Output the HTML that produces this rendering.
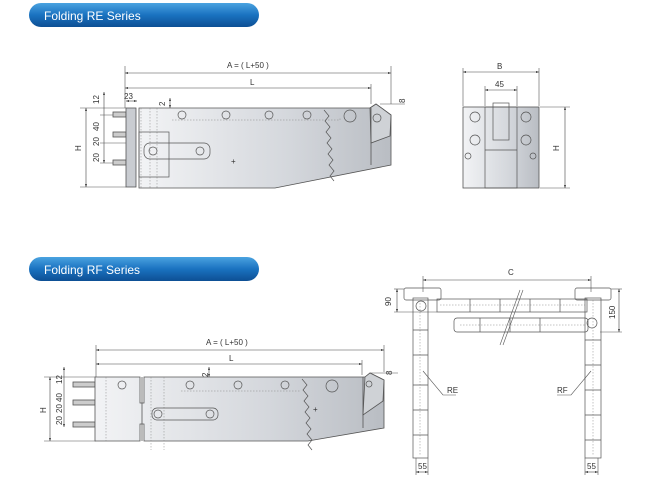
<!DOCTYPE html>
<html><head><meta charset="utf-8"><style>
html,body{margin:0;padding:0;background:#fff;}
svg{display:block;font-family:"Liberation Sans",sans-serif;}
</style></head><body>
<svg width="650" height="479" viewBox="0 0 650 479" xmlns="http://www.w3.org/2000/svg">
<defs>
<linearGradient id="ban" x1="0" y1="0" x2="0" y2="1">
<stop offset="0" stop-color="#4aa3e0"/><stop offset="0.5" stop-color="#1a72c0"/><stop offset="1" stop-color="#0d4f94"/></linearGradient>
<linearGradient id="body" x1="0" y1="0" x2="1" y2="0">
<stop offset="0" stop-color="#f2f3f5"/><stop offset="0.6" stop-color="#d4d7dc"/><stop offset="1" stop-color="#b9bdc3"/></linearGradient>
<linearGradient id="dark" x1="0" y1="0" x2="1" y2="0">
<stop offset="0" stop-color="#c4c8cd"/><stop offset="1" stop-color="#9da2a9"/></linearGradient>
<marker id="a" viewBox="0 0 6 6" refX="6" refY="3" markerWidth="5" markerHeight="5" orient="auto-start-reverse"><path d="M0,1 L6,3 L0,5z" fill="#333"/></marker>
</defs>
<style>
.d{stroke:#555;stroke-width:0.6;fill:none}
.m{stroke:#444;stroke-width:0.6;fill:none;marker-start:url(#a);marker-end:url(#a)}
.o{stroke:#555;stroke-width:0.8}
.t{font-size:8px;fill:#333}
.h{fill:none;stroke:#555;stroke-width:0.7}
.dot{stroke:#888;stroke-width:0.5;stroke-dasharray:1.5 1.5;fill:none}
</style>
<!-- banners -->
<rect x="29" y="3" width="230" height="24" rx="12" fill="url(#ban)"/>
<text x="44" y="20" font-size="12" fill="#fff">Folding RE Series</text>
<rect x="29" y="257" width="230" height="24" rx="12" fill="url(#ban)"/>
<text x="44" y="274" font-size="12" fill="#fff">Folding RF Series</text>

<!-- RE side view -->
<line class="d" x1="125" y1="66" x2="125" y2="108"/><line class="d" x1="391" y1="66" x2="391" y2="104"/>
<line class="m" x1="125" y1="73" x2="391" y2="73"/>
<text class="t" x="227" y="68">A = ( L+50 )</text>
<line class="m" x1="125" y1="88" x2="371" y2="88"/><line class="d" x1="371" y1="84" x2="371" y2="104"/>
<text class="t" x="250" y="85">L</text>
<line class="m" x1="126" y1="101" x2="137" y2="101"/><text class="t" x="124" y="99" font-size="7">23</text>
<text class="t" transform="translate(165,106) rotate(-90)">2</text>
<line class="m" x1="170" y1="98" x2="170" y2="108"/>
<text class="t" transform="translate(405,103) rotate(-90)">8</text>
<line class="d" x1="380" y1="104" x2="405" y2="104"/>
<!-- left dims -->
<line class="d" x1="80" y1="108" x2="126" y2="108"/><line class="d" x1="80" y1="187" x2="126" y2="187"/>
<line class="m" x1="86" y1="108" x2="86" y2="187"/><text class="t" transform="translate(81,151) rotate(-90)">H</text>
<line class="m" x1="104" y1="92" x2="104" y2="163"/>
<text class="t" transform="translate(99,104) rotate(-90)">12</text>
<text class="t" transform="translate(99,131) rotate(-90)">40</text>
<text class="t" transform="translate(99,146) rotate(-90)">20</text>
<text class="t" transform="translate(99,162) rotate(-90)">20</text>
<line class="d" x1="100" y1="115" x2="126" y2="115"/><line class="d" x1="100" y1="143" x2="126" y2="143"/><line class="d" x1="100" y1="163" x2="126" y2="163"/>
<!-- pins -->
<rect x="113" y="112" width="13" height="5" fill="#ccc" class="o"/>
<rect x="113" y="132" width="13" height="5" fill="#ccc" class="o"/>
<rect x="113" y="160" width="13" height="5" fill="#ccc" class="o"/>
<rect x="126" y="108" width="10" height="79" fill="#c9ccd1" class="o"/>
<path d="M139,108 H370 L376,104 L391,115 V165 L275,188 H139 Z" fill="url(#body)" class="o"/>
<path d="M370,108 L376,104 L391,115 L390,136 L371,143 Z" fill="#cfd2d6" class="o"/>
<line class="o" x1="371" y1="108" x2="371" y2="165"/>
<path d="M141,108 V188 M150,108 V188 M157,108 V188" class="dot"/>
<rect x="139" y="132" width="30" height="45" fill="#dcdee1" class="h"/>
<rect x="144" y="143" width="66" height="16" rx="6" fill="#e6e7ea" class="h"/>
<circle cx="153" cy="151" r="4" class="h"/><circle cx="200" cy="151" r="4" class="h"/>
<path d="M172,120 H340 V118" class="dot"/>
<g class="h"><circle cx="182" cy="115" r="4"/><circle cx="226" cy="115" r="4"/><circle cx="269" cy="115" r="4"/><circle cx="307" cy="115" r="4"/><circle cx="350" cy="116" r="6"/><circle cx="377" cy="118" r="4"/></g>
<path d="M324,110 l5,6 -4,5 5,6 -4,5 5,6 -4,5 5,6 -4,5 5,6 -4,5 5,6 -4,5 4,5" class="h"/>
<text class="t" x="231" y="164" font-size="9">+</text>

<!-- RE end view -->
<line class="d" x1="463" y1="68" x2="463" y2="106"/><line class="d" x1="539" y1="68" x2="539" y2="106"/>
<line class="m" x1="463" y1="72" x2="539" y2="72"/><text class="t" x="497" y="69">B</text>
<line class="d" x1="485" y1="86" x2="485" y2="106"/><line class="d" x1="517" y1="86" x2="517" y2="106"/>
<line class="m" x1="485" y1="90" x2="517" y2="90"/><text class="t" x="495" y="87">45</text>
<rect x="463" y="107" width="76" height="81" fill="url(#body)" class="o"/>
<rect x="485" y="107" width="32" height="81" fill="#d6d9dd" class="h"/>
<rect x="493" y="103" width="16" height="37" fill="#e3e5e8" class="h"/>
<line class="h" x1="485" y1="150" x2="517" y2="150"/>
<g class="h"><circle cx="475" cy="117" r="5"/><circle cx="475" cy="140" r="5"/><circle cx="468" cy="156" r="3"/><circle cx="526" cy="117" r="5"/><circle cx="526" cy="140" r="5"/><circle cx="533" cy="156" r="3"/></g>
<line class="d" x1="540" y1="107" x2="570" y2="107"/><line class="d" x1="540" y1="188" x2="570" y2="188"/>
<line class="m" x1="565" y1="107" x2="565" y2="188"/><text class="t" transform="translate(559,151) rotate(-90)">H</text>

<!-- RF side view -->
<line class="d" x1="96" y1="345" x2="96" y2="377"/><line class="d" x1="384" y1="345" x2="384" y2="372"/>
<line class="m" x1="96" y1="350" x2="384" y2="350"/><text class="t" x="206" y="345">A = ( L+50 )</text>
<line class="m" x1="96" y1="364" x2="362" y2="364"/><line class="d" x1="362" y1="360" x2="362" y2="375"/>
<text class="t" x="229" y="361">L</text>
<text class="t" transform="translate(208,377) rotate(-90)">2</text>
<line class="m" x1="209" y1="367" x2="209" y2="377"/>
<text class="t" transform="translate(392,375) rotate(-90)">8</text>
<line class="d" x1="370" y1="373" x2="398" y2="373"/>
<line class="d" x1="44" y1="377" x2="96" y2="377"/><line class="d" x1="44" y1="441" x2="96" y2="441"/>
<line class="m" x1="50" y1="377" x2="50" y2="441"/><text class="t" transform="translate(46,413) rotate(-90)">H</text>
<line class="m" x1="64" y1="367" x2="64" y2="427"/>
<text class="t" transform="translate(62,384) rotate(-90)">12</text>
<text class="t" transform="translate(62,402) rotate(-90)">40</text>
<text class="t" transform="translate(62,413) rotate(-90)">20</text>
<text class="t" transform="translate(62,425) rotate(-90)">20</text>
<rect x="73" y="382" width="22" height="5" fill="#ccc" class="o"/>
<rect x="73" y="400" width="22" height="5" fill="#ccc" class="o"/>
<rect x="73" y="422" width="22" height="5" fill="#ccc" class="o"/>
<path d="M95,377 H140 V403 H144 V377 H365 L370,373 L384,380 V428 L308,441 H144 V424 H140 V441 H95 Z" fill="url(#body)" class="o"/>
<path d="M365,377 L370,373 L384,380 L383,401 L363,415 Z" fill="#cfd2d6" class="o"/>
<line class="o" x1="363" y1="377" x2="363" y2="428"/>
<line class="o" x1="142" y1="377" x2="142" y2="441"/>
<path d="M151,377 V450 M164,377 V450 M106,377 V441" class="dot"/>
<rect x="152" y="408" width="66" height="12" rx="5" fill="#e6e7ea" class="h"/>
<circle cx="158" cy="414" r="4" class="h"/><circle cx="210" cy="414" r="4" class="h"/>
<path d="M181,391 H300" class="dot"/>
<g class="h"><circle cx="122" cy="385" r="4"/><circle cx="190" cy="385" r="4"/><circle cx="238" cy="385" r="4"/><circle cx="285" cy="385" r="4"/><circle cx="332" cy="386" r="6"/><circle cx="369" cy="384" r="3"/></g>
<path d="M302,379 l5,6 -4,5 5,6 -4,5 5,6 -4,5 5,6 -4,5 5,6 -4,5 5,6 -4,5 4,5" class="h"/>
<text class="t" x="313" y="412" font-size="9">+</text>

<!-- chain diagram -->
<line class="d" x1="423" y1="276" x2="423" y2="292"/><line class="d" x1="591" y1="276" x2="591" y2="292"/>
<line class="m" x1="423" y1="280" x2="591" y2="280"/><text class="t" x="508" y="275">C</text>
<rect x="404" y="288" width="37" height="12" rx="2" fill="#d9dbde" class="h"/>
<rect x="413" y="298" width="15" height="160" fill="url(#body)" class="h"/>
<rect x="437" y="299" width="150" height="13" fill="#dcdfe2" class="h"/>
<rect x="454" y="318" width="134" height="14" rx="3" fill="#cfd2d6" class="h"/>
<rect x="575" y="288" width="36" height="12" rx="2" fill="#b4b8bd" class="h"/>
<rect x="585" y="298" width="16" height="160" fill="url(#dark)" class="h"/>
<circle cx="421" cy="306" r="5" class="h"/><circ cx="0"/>
<circle cx="592" cy="323" r="5" class="h"/>
<path d="M420,300 V455 M593,300 V455 M440,305 H585 M460,325 H585" class="dot"/>
<g class="h"><path d="M413,330 h15 M413,355 h15 M413,385 h15 M413,410 h15 M413,435 h15 M585,340 h16 M585,365 h16 M585,390 h16 M585,415 h16 M585,440 h16 M470,299 v13 M500,299 v13 M530,299 v13 M560,299 v13 M480,318 v14 M510,318 v14 M540,318 v14"/></g>
<line class="d" x1="520" y1="290" x2="500" y2="345"/><line class="d" x1="523" y1="290" x2="503" y2="345"/>
<line class="d" x1="394" y1="289" x2="404" y2="289"/><line class="d" x1="394" y1="312" x2="437" y2="312"/>
<line class="m" x1="397" y1="289" x2="397" y2="312"/><text class="t" transform="translate(391,306) rotate(-90)">90</text>
<line class="d" x1="611" y1="289" x2="622" y2="289"/><line class="d" x1="600" y1="332" x2="622" y2="332"/>
<line class="m" x1="619" y1="289" x2="619" y2="332"/><text class="t" transform="translate(615,319) rotate(-90)">150</text>
<path d="M423,371 L443,395 H456" class="d"/><text class="t" x="447" y="393">RE</text>
<path d="M591,371 L571,395 H557" class="d"/><text class="t" x="557" y="393">RF</text>
<line class="d" x1="416" y1="458" x2="416" y2="475"/><line class="d" x1="428" y1="458" x2="428" y2="475"/>
<line class="m" x1="416" y1="472" x2="428" y2="472"/><text class="t" x="418" y="469" font-size="7">55</text>
<line class="d" x1="585" y1="458" x2="585" y2="475"/><line class="d" x1="598" y1="458" x2="598" y2="475"/>
<line class="m" x1="585" y1="472" x2="598" y2="472"/><text class="t" x="587" y="469" font-size="7">55</text>
</svg>
</body></html>
